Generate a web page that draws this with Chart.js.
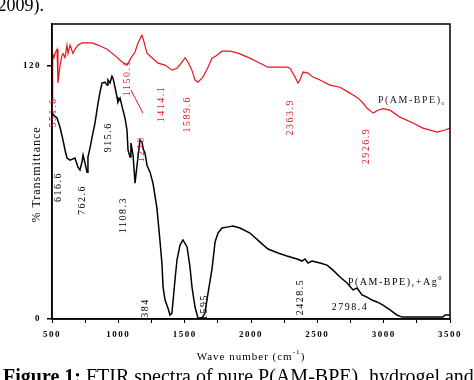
<!DOCTYPE html>
<html>
<head>
<meta charset="utf-8">
<script src="https://cdn.jsdelivr.net/npm/chart.js@4.4.1/dist/chart.umd.min.js"></script>
<style>
  html, body { margin: 0; padding: 0; background: #fff; }
  #wrap { width: 474px; height: 380px; position: relative; }
</style>
</head>
<body>
<div id="wrap"><canvas id="c" width="474" height="380"></canvas></div>
<script>
// ---- data ----
const xTickValues = [500, 1000, 1500, 2000, 2500, 3000, 3500];
const yTickValues = [0, 120];

// P(AM-BPE)c  (red)
const redWave = [500, 505, 515, 523, 538, 545, 560, 575, 583, 598, 613, 621, 636, 658, 673, 696, 726, 749, 802, 847, 915, 975, 1028, 1065, 1095, 1126, 1148, 1178, 1186, 1216, 1254, 1299, 1352, 1405, 1442, 1480, 1503, 1525, 1555, 1578, 1600, 1638, 1676, 1706, 1744, 1781, 1842, 1902, 1992, 2068, 2128, 2196, 2271, 2294, 2332, 2354, 2369, 2392, 2430, 2467, 2520, 2595, 2671, 2746, 2807, 2844, 2874, 2920, 2957, 2995, 3048, 3123, 3221, 3296, 3402, 3462, 3500];
const redT    = [103, 126, 124, 126, 128, 112, 120, 125, 126, 124, 130, 126, 130, 126, 128, 130, 131, 131, 131, 130, 128, 125, 122, 120.5, 123.8, 126.7, 131, 134.7, 133.3, 126.2, 124, 121.4, 120.5, 118.1, 119, 121.9, 124, 122, 118, 113.4, 112.4, 114.8, 119.5, 123.8, 125.2, 127.1, 127.1, 126.2, 123.8, 121.4, 119.5, 119.5, 119.5, 119, 114.8, 112, 113.4, 117.2, 116.7, 114.8, 113.4, 111, 110, 107.2, 104.8, 102.5, 100.1, 97.7, 99.1, 99.8, 99.1, 95.8, 93, 90.6, 88.7, 89.7, 90.6];

// P(AM-BPE)c + Ag0  (black)
const blackWave = [500, 508, 538, 560, 583, 598, 613, 636, 673, 696, 711, 726, 734, 749, 764, 771, 786, 802, 824, 847, 862, 877, 900, 915, 922, 937, 952, 960, 975, 990, 997, 1013, 1035, 1050, 1065, 1073, 1088, 1095, 1111, 1126, 1148, 1163, 1178, 1186, 1201, 1216, 1239, 1261, 1291, 1314, 1329, 1337, 1352, 1374, 1389, 1404, 1427, 1442, 1465, 1487, 1518, 1540, 1555, 1578, 1600, 1631, 1653, 1676, 1706, 1729, 1751, 1781, 1819, 1864, 1917, 1992, 2068, 2128, 2204, 2271, 2347, 2384, 2407, 2430, 2460, 2520, 2573, 2618, 2671, 2724, 2769, 2799, 2837, 2874, 2912, 2950, 2995, 3048, 3100, 3138, 3274, 3447, 3462, 3500];
const blackT    = [99, 97, 95.4, 91.1, 84.9, 80.2, 76.4, 75.4, 76.4, 72.1, 70.7, 74.5, 77.8, 74, 69.7, 76.9, 81, 86.3, 93, 102.5, 107.7, 112, 112.4, 111, 113.4, 112, 115.2, 114.3, 110, 105.3, 102.9, 104.8, 99.1, 95.4, 89.7, 80.2, 76.9, 83.5, 77.8, 64.5, 76.9, 84.9, 84, 81, 78.7, 73, 69.7, 64.5, 52.6, 37, 26.1, 15.2, 9, 5.2, 1.9, 2.8, 18.5, 28, 35.1, 37.5, 34.2, 24.7, 15.2, 5.7, 0.5, 0.5, 2.8, 12.3, 23.7, 36.5, 40.8, 43.2, 43.6, 44.1, 43.2, 40.8, 36.5, 33.2, 31.3, 29.9, 28.5, 27.5, 28.5, 26.6, 27.5, 26.6, 25.6, 23.2, 19.9, 17.1, 13.8, 14.7, 11.4, 10.4, 9, 8.1, 6.6, 4.3, 1.9, 0.9, 0.9, 0.9, 1.9, 1.9];

// peak annotations (text, anchor wavenumber, anchor %T)
const redPeakText  = ["551.6", "1150.1", "1210", "1414.1", "1589.6", "2363.9", "2926.9"];
const redPeakWave  = [507, 1065, 1171, 1322, 1518, 2294, 2867];
const redPeakT     = [98, 114.3, 80.6, 102, 97.2, 95.8, 82.1];
const blackPeakText = ["616.6", "762.6", "915.6", "1108.3", "384", "1595", "2428.5"];
const blackPeakWave = [545, 726, 922, 1035, 1201, 1646, 2369];
const blackPeakT    = [62.6, 56.5, 86.3, 49.3, 5.2, 5.7, 10.4];
const flatPeakText = ["2798.4"];
const flatPeakWave = [2746];
const flatPeakT    = [5.7];
// leader line for the 1210 label
const leaderWave = [1095, 1186];
const leaderT    = [108.6, 97.7];

// series names (parts: plain / sub / sup)
const redName   = [["P(AM-BPE)", ""], ["c", "sub"]];
const blackName = [["P(AM-BPE)", ""], ["c", "sub"], ["+Ag", ""], ["0", "sup"]];
const redNameAt   = [2957, 103.9];
const blackNameAt = [2731, 17.6];

const yTitle = "% Transmittance";
const xTitle = [["Wave number (cm", ""], ["-1", "sup"], [")", ""]];
const topText = "2009).";
const caption = [["Figure 1:", "bold"], [" FTIR spectra of pure P(AM-BPE)", ""], ["c", "sub"], [" hydrogel and", ""]];

// ---- build ----
const toXY = (xs, ys) => xs.map((v, i) => ({ x: v, y: ys[i] }));
const RED = '#e8141c';
const SERIF = '"Liberation Serif", "Times New Roman", serif';

function partFont(kind, size) {
  let fs = size, wt = '';
  if (kind === 'sub' || kind === 'sup') fs = size * 0.65;
  if (kind === 'bold') wt = 'bold ';
  return wt + fs + 'px ' + SERIF;
}
function drawParts(ctx, parts, x, y, size, spacing) {
  let cx = x;
  ctx.letterSpacing = spacing + 'px';
  for (const [t, kind] of parts) {
    let dy = 0;
    if (kind === 'sub') dy = size * 0.3;
    if (kind === 'sup') dy = -size * 0.4;
    ctx.font = partFont(kind, size);
    ctx.fillText(t, cx, y + dy);
    cx += ctx.measureText(t).width;
  }
  return cx;
}
function partsWidth(ctx, parts, size, spacing) {
  let total = 0;
  ctx.save();
  ctx.letterSpacing = spacing + 'px';
  for (const [t, kind] of parts) {
    ctx.font = partFont(kind, size);
    total += ctx.measureText(t).width;
  }
  ctx.restore();
  return total;
}

const annotate = {
  id: 'annotate',
  beforeDraw(chart) {
    chart.ctx.letterSpacing = '1.5px';
  },
  afterDatasetsDraw(chart) {
    const { ctx, chartArea: a, scales: { x, y } } = chart;
    ctx.save();
    // frame
    ctx.strokeStyle = '#000';
    ctx.lineWidth = 1.5;
    ctx.strokeRect(a.left, a.top, a.right - a.left, a.bottom - a.top);

    // rotated peak labels
    ctx.textAlign = 'center';
    ctx.textBaseline = 'middle';
    ctx.font = '10px ' + SERIF;
    ctx.letterSpacing = '1.5px';
    const rot = (txt, wv, tv, col) => {
      ctx.save();
      ctx.translate(x.getPixelForValue(wv), y.getPixelForValue(tv));
      ctx.rotate(-Math.PI / 2);
      ctx.fillStyle = col;
      ctx.fillText(txt, 0, 0);
      ctx.restore();
    };
    redPeakText.forEach((t, i) => rot(t, redPeakWave[i], redPeakT[i], RED));
    blackPeakText.forEach((t, i) => rot(t, blackPeakWave[i], blackPeakT[i], '#000'));
    ctx.fillStyle = '#000';
    flatPeakText.forEach((t, i) => ctx.fillText(t, x.getPixelForValue(flatPeakWave[i]), y.getPixelForValue(flatPeakT[i])));

    // series names
    ctx.textAlign = 'left';
    ctx.fillStyle = '#1a1a2a';
    drawParts(ctx, redName, x.getPixelForValue(redNameAt[0]), y.getPixelForValue(redNameAt[1]), 10, 1.5);
    ctx.fillStyle = '#000';
    drawParts(ctx, blackName, x.getPixelForValue(blackNameAt[0]), y.getPixelForValue(blackNameAt[1]), 10, 1.5);
    ctx.restore();
  },
  afterDraw(chart) {
    const { ctx, chartArea: a } = chart;
    ctx.save();
    ctx.fillStyle = '#000';
    // y title
    ctx.save();
    ctx.translate(37, (a.top + a.bottom) / 2 + 3);
    ctx.rotate(-Math.PI / 2);
    ctx.textAlign = 'center';
    ctx.textBaseline = 'middle';
    ctx.font = '12px ' + SERIF;
    ctx.letterSpacing = '1px';
    ctx.fillText(yTitle, 0, 0);
    ctx.restore();
    // x title
    ctx.textAlign = 'left';
    ctx.textBaseline = 'middle';
    const xw = partsWidth(ctx, xTitle, 11, 1);
    drawParts(ctx, xTitle, (a.left + a.right) / 2 - xw / 2, 357, 11, 1);
    // surrounding page text
    ctx.textBaseline = 'alphabetic';
    ctx.textAlign = 'right';
    ctx.letterSpacing = '0px';
    ctx.font = '18px ' + SERIF;
    ctx.fillText(topText, 44, 11);
    ctx.textAlign = 'left';
    drawParts(ctx, caption, 3, 383, 20, 0);
    ctx.restore();
  }
};

new Chart(document.getElementById('c'), {
  type: 'line',
  data: {
    datasets: [
      { label: 'P(AM-BPE)c', data: toXY(redWave, redT), borderColor: RED, borderWidth: 1.2, pointRadius: 0, tension: 0, fill: false },
      { label: 'P(AM-BPE)c+Ag0', data: toXY(blackWave, blackT), borderColor: '#000', borderWidth: 1.5, pointRadius: 0, tension: 0, fill: false },
      { label: 'leader', data: toXY(leaderWave, leaderT), borderColor: RED, borderWidth: 1, pointRadius: 0, tension: 0, fill: false }
    ]
  },
  options: {
    responsive: false,
    devicePixelRatio: 1,
    animation: false,
    layout: { padding: { top: 24, right: 24, left: 0, bottom: 0 } },
    plugins: { legend: { display: false }, tooltip: { enabled: false }, title: { display: false } },
    scales: {
      x: {
        type: 'linear',
        min: 500, max: 3500,
        afterFit: (s) => { s.height = 61; },
        afterBuildTicks: (s) => {
          const t = [];
          for (let v = xTickValues[0]; v <= xTickValues[xTickValues.length - 1]; v += 250) t.push({ value: v });
          s.ticks = t;
        },
        ticks: {
          autoSkip: false, maxRotation: 0, padding: 6, color: '#000',
          font: { family: SERIF, size: 9, weight: 'bold' },
          callback: (v) => xTickValues.includes(v) ? String(v) : ''
        },
        grid: { display: true, drawOnChartArea: false, drawTicks: true, tickLength: 4, color: '#000', lineWidth: 1 },
        border: { display: true, color: '#000', width: 1.5 }
      },
      y: {
        type: 'linear',
        min: 0, max: 140,
        afterFit: (s) => { s.width = 52; },
        afterBuildTicks: (s) => { s.ticks = yTickValues.map(v => ({ value: v })); },
        ticks: { padding: 6, color: '#000', font: { family: SERIF, size: 9, weight: 'bold' } },
        grid: { display: true, drawOnChartArea: false, drawTicks: true, tickLength: 5, color: '#000', lineWidth: 1.5 },
        border: { display: true, color: '#000', width: 1.5 }
      }
    }
  },
  plugins: [annotate]
});
</script>
</body>
</html>
